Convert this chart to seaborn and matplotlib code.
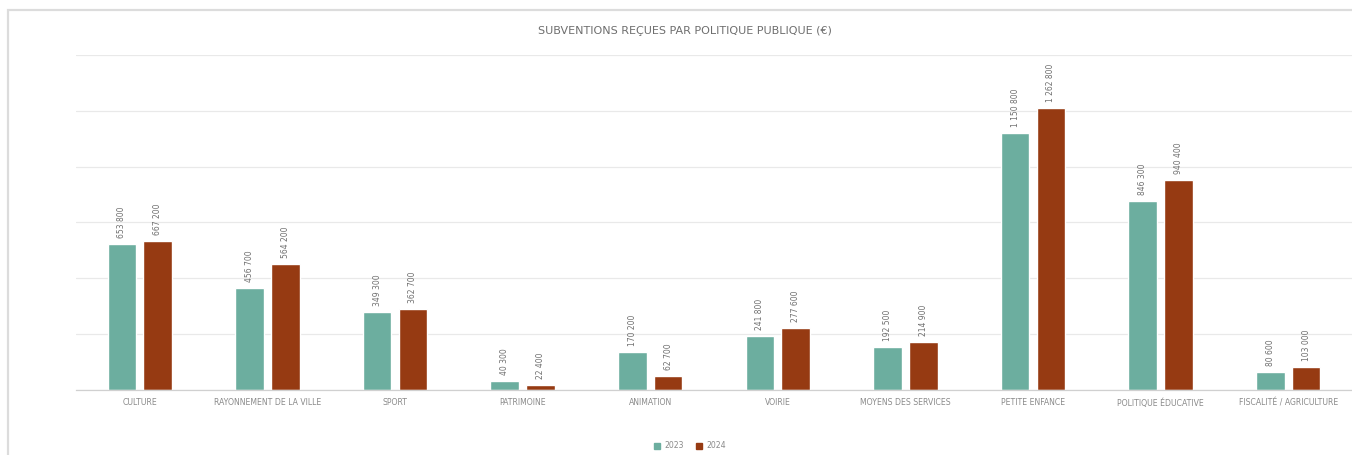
import matplotlib
matplotlib.use("Agg")
import matplotlib.pyplot as plt
from matplotlib.patches import Rectangle
import pandas as pd
import seaborn as sns

# Subsidies received per public policy, in euros
categories = [
    "CULTURE",
    "RAYONNEMENT DE LA VILLE",
    "SPORT",
    "PATRIMOINE",
    "ANIMATION",
    "VOIRIE",
    "MOYENS DES SERVICES",
    "PETITE ENFANCE",
    "POLITIQUE ÉDUCATIVE",
    "FISCALITÉ / AGRICULTURE",
]
years = ["2023", "2024"]
values_2023 = [653800, 456700, 349300, 40300, 170200, 241800, 192500, 1150800, 846300, 80600]
values_2024 = [667200, 564200, 362700, 22400, 62700, 277600, 214900, 1262800, 940400, 103000]

df = pd.DataFrame({
    "politique": categories * 2,
    "annee": [years[0]] * len(categories) + [years[1]] * len(categories),
    "montant": values_2023 + values_2024,
})

palette = {"2023": "#6cae9f", "2024": "#963a12"}

sns.set_theme(style="white")
plt.rcParams["font.family"] = ["DejaVu Sans"]

fig = plt.figure(figsize=(13.52, 4.55), dpi=100)
fig.patch.set_facecolor("white")
ax = fig.add_axes([76 / 1352, 1 - 390 / 455, 1 - 76 / 1352, (390 - 55) / 455])

sns.barplot(
    data=df, x="politique", y="montant", hue="annee",
    order=categories, hue_order=years, palette=palette,
    width=0.56, gap=0.2, saturation=1, ax=ax, legend=True,
)

ax.set_ylim(0, 1500000)
ax.set_xlim(-0.5, len(categories) - 0.5)
ax.set_yticks(range(0, 1500001, 250000))
ax.set_yticklabels([])
ax.tick_params(axis="y", length=0)
ax.yaxis.grid(True, color="#e9e9e9", linewidth=0.9)
ax.set_axisbelow(True)
ax.set_xlabel("")
ax.set_ylabel("")
ax.tick_params(axis="x", length=0, labelsize=5.6, labelcolor="#8a8a8a", pad=6)
for side in ("top", "right", "left"):
    ax.spines[side].set_visible(False)
ax.spines["bottom"].set_color("#d0d0d0")
ax.spines["bottom"].set_linewidth(0.9)

def euro(v):
    return f"{v:,.0f}".replace(",", " ")

for container in ax.containers:
    ax.bar_label(container, labels=[euro(v) for v in container.datavalues],
                 rotation=90, padding=4, fontsize=5.5, color="#6f6f6f",
                 clip_on=False)

ax.legend_.remove()
handles = [plt.Rectangle((0, 0), 1, 1, color=palette[y]) for y in years]
fig.legend(handles, years, loc="center", bbox_to_anchor=(690 / 1352, 1 - 446 / 455),
           ncol=2, frameon=False, fontsize=5.6, labelcolor="#8a8a8a",
           handlelength=0.8, handleheight=0.8, handletextpad=0.5, columnspacing=1.6)

fig.text(685 / 1352, 1 - 31 / 455, "SUBVENTIONS REÇUES PAR POLITIQUE PUBLIQUE (€)",
         ha="center", va="center", fontsize=8, color="#6e6e6e")

# light card outline
fig.patches.append(Rectangle((8 / 1352, -0.05), 1.1, 1 - 10 / 455 + 0.05,
                             transform=fig.transFigure, fill=False,
                             edgecolor="#dcdcdc", linewidth=1.6, zorder=0))

fig.savefig("out.png", dpi=100, facecolor="white")
